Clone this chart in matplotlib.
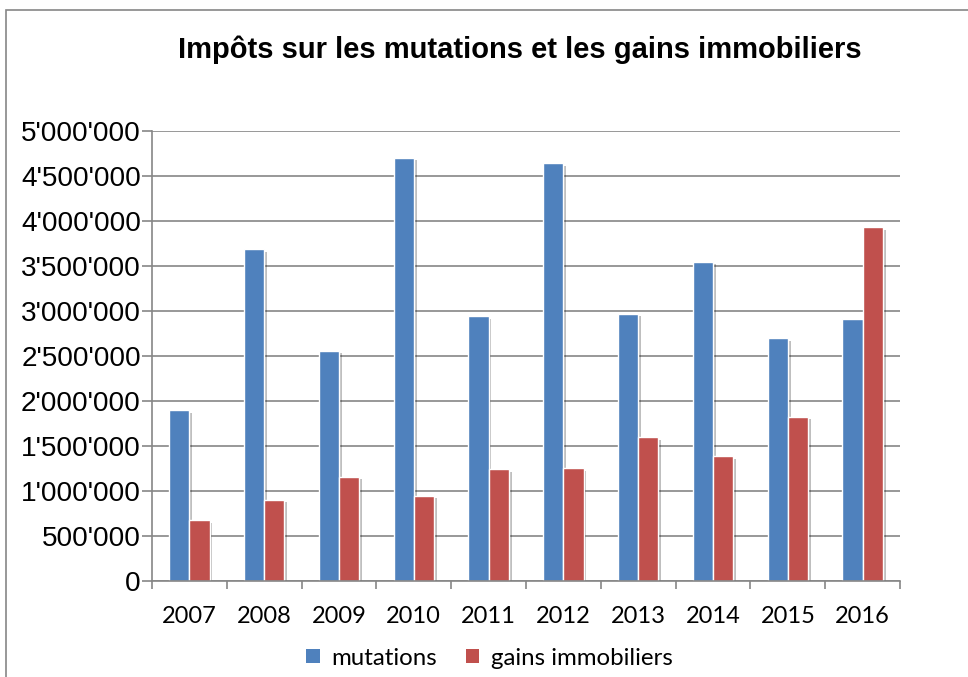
import matplotlib.pyplot as plt
import matplotlib.patheffects as pe
from matplotlib.patches import Rectangle, Patch
import numpy as np

years = ["2007", "2008", "2009", "2010", "2011", "2012", "2013", "2014", "2015", "2016"]
mutations = [1900000, 3690000, 2560000, 4705000, 2940000, 4640000, 2970000, 3550000, 2695000, 2915000]
gains = [680000, 905000, 1160000, 950000, 1240000, 1252000, 1596000, 1390000, 1826000, 3935000]

blue = "#4F81BD"
red = "#C0504D"
grid_col = "#868686"

fig = plt.figure(figsize=(9.68, 6.77), dpi=100)
ax = fig.add_axes([0.157, 0.1418, 0.7728, 0.6647])

x = np.arange(len(years))
w = 0.27
shadow = [pe.SimplePatchShadow(offset=(2, -2), alpha=0.25, shadow_rgbFace="#000000"), pe.Normal()]
b1 = ax.bar(x - w / 2, mutations, w, color=blue, edgecolor="white", linewidth=1, zorder=3)
b2 = ax.bar(x + w / 2, gains, w, color=red, edgecolor="white", linewidth=1, zorder=3)
for bar in list(b1) + list(b2):
    bar.set_path_effects(shadow)

ax.set_xlim(-0.5, len(years) - 0.5)
ax.set_ylim(0, 5000000)
yt = np.arange(0, 5000001, 500000)
ax.set_yticks(yt)
ax.set_yticklabels([f"{v:,.0f}".replace(",", "'") for v in yt], fontfamily="Liberation Sans", fontsize=20.2)
ax.set_xticks(x)
ax.set_xticklabels(years, fontfamily="Lato", fontsize=17)
ax.set_xticks(np.arange(-0.5, len(years)), minor=True)
ax.tick_params(axis="x", which="major", length=0, pad=18)
ax.tick_params(axis="x", which="minor", length=6, color=grid_col, width=1.2)
ax.tick_params(axis="y", length=7, color=grid_col, width=1.2, pad=1)

ax.yaxis.grid(True, color=grid_col, linewidth=1.2, zorder=0)
ax.set_axisbelow(True)
for s in ["top", "right"]:
    ax.spines[s].set_visible(False)
for s in ["left", "bottom"]:
    ax.spines[s].set_color(grid_col)
    ax.spines[s].set_linewidth(1.2)
ax.spines["bottom"].set_zorder(4)

fig.text(0.537, 0.927, "Impôts sur les mutations et les gains immobiliers",
         ha="center", va="center", fontfamily="Liberation Sans", fontweight="bold", fontsize=21)

handles = [Patch(facecolor=blue, label="mutations"), Patch(facecolor=red, label="gains immobiliers")]
fig.legend(handles=handles, loc="center", bbox_to_anchor=(0.506, 0.028), ncol=2, frameon=False,
           prop={"family": "Lato", "size": 17.3}, handlelength=0.55, handleheight=0.55,
           handletextpad=0.5, columnspacing=1.2)

fig.patches.append(Rectangle((0.0057, -0.2), 1.2, 1.185, transform=fig.transFigure,
                             fill=False, edgecolor=grid_col, linewidth=1.2))

fig.savefig("out.png", dpi=100)
